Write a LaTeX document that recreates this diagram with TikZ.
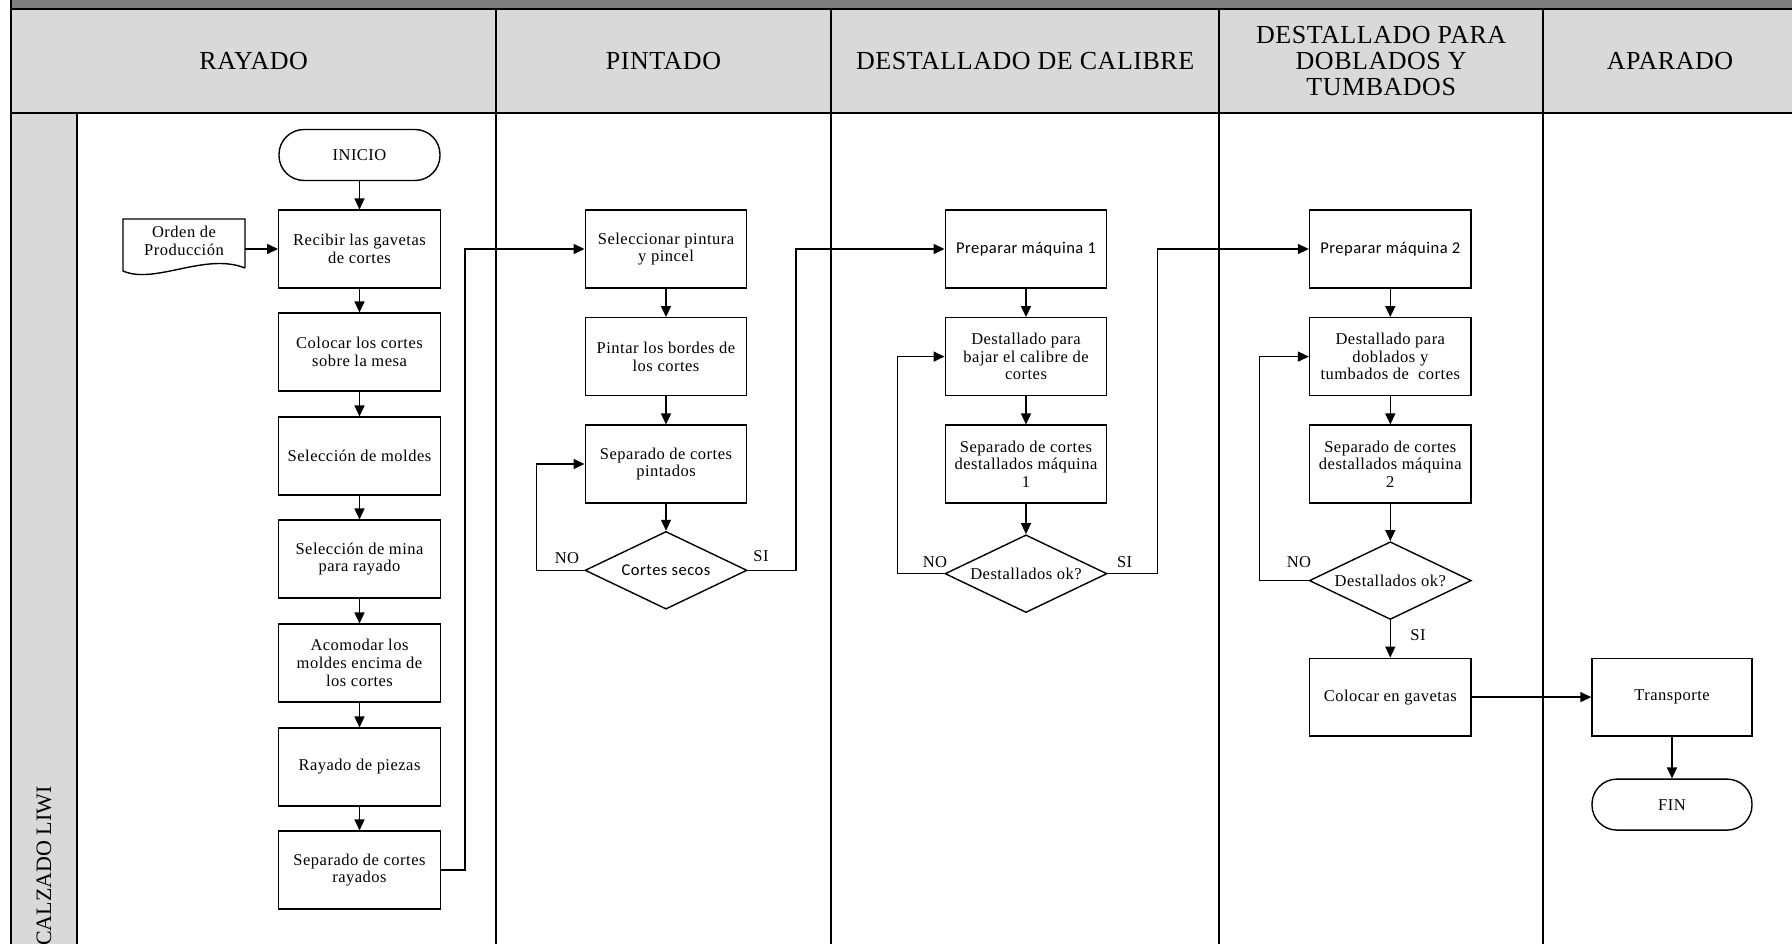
\documentclass[tikz,border=0pt]{standalone}
\usepackage{fontspec}
\setmainfont{Liberation Serif}
\newfontfamily\bxserif[LetterSpace=3]{Liberation Serif}
\newfontfamily\bxsans[LetterSpace=3]{Carlito}
\newfontfamily\hdserif[LetterSpace=2]{Liberation Serif}
\usetikzlibrary{arrows.meta,shapes.geometric}
\newcommand\myboxfont{\bxserif\fontsize{16.5}{17.7}\selectfont}
\newcommand\mysansfont{\bxsans\fontsize{16.5}{17.7}\selectfont}
\newcommand\myheadfont{\hdserif\fontsize{26}{26.3}\selectfont}
\definecolor{band}{HTML}{7F7F7F}
\definecolor{hdr}{HTML}{D9D9D9}
\begin{document}
\begin{tikzpicture}[x=1pt,y=-1pt,
  box/.style={draw, line width=1.4pt, minimum width=161.5pt, minimum height=77.7pt, inner sep=1pt, align=center, font=\myboxfont},
  sbox/.style={box, font=\mysansfont},
  term/.style={draw, line width=1.4pt, rounded corners=25pt, minimum width=161pt, minimum height=51pt, inner sep=1pt, align=center, font=\myboxfont},
  dec/.style={draw, diamond, line width=1.4pt, aspect=2.08, minimum width=162pt, minimum height=77.7pt, inner sep=0pt, align=center, font=\myboxfont},
  head/.style={align=center, font=\myheadfont},
  lbl/.style={font=\myboxfont, inner sep=0pt},
  arr/.style={line width=1.4pt, -{Triangle[length=11pt,width=10pt]}},
  tbl/.style={line width=2pt}]
\useasboundingbox (0,0) rectangle (1792,944);
% table background
\fill[band] (11.4,0) rectangle (1792,9);
\fill[hdr] (11.4,9) rectangle (1792,113);
\fill[hdr] (11.4,113) rectangle (76.6,944);
\draw[tbl] (11.4,0) -- (11.4,944);
\draw[tbl] (11.4,9) -- (1792,9);
\draw[tbl] (11.4,113) -- (1792,113);
\draw[tbl] (76.6,113) -- (76.6,944);
\foreach \xx in {496,831,1219.4,1543} {\draw[tbl] (\xx,9) -- (\xx,944);}
% headers
\node[head] (hray) at (253.7,61) {RAYADO};
\node[head] (hpin) at (663.5,61) {PINTADO};
\node[head] (hcal) at (1025.2,61) {DESTALLADO DE CALIBRE};
\node[head] (hdob) at (1381.2,61) {DESTALLADO PARA\\DOBLADOS Y\\TUMBADOS};
\node[head] (hapa) at (1670,61) {APARADO};
\node[font=\fontsize{22}{24}\selectfont, rotate=90] (lane) at (44,866) {CALZADO LIWI};
% RAYADO
\node[term] (inicio) at (359.5,155) {INICIO};
\node[box] (recibir) at (359.5,249) {Recibir las gavetas\\de cortes};
\node[box] (colocar) at (359.5,352) {Colocar los cortes\\sobre la mesa};
\node[box] (moldes) at (359.5,456) {Selección de moldes};
\node[box] (mina) at (359.5,559) {Selección de mina\\para rayado};
\node[box] (acomodar) at (359.5,663) {Acomodar los\\moldes encima de\\los cortes};
\node[box] (rayado) at (359.5,767) {Rayado de piezas};
\node[box] (seprayados) at (359.5,870) {Separado de cortes\\rayados};
\node[font=\myboxfont, align=center, minimum width=122pt, minimum height=44pt, inner sep=0pt] (orden) at (184,241) {Orden de\\Producción};
\draw[line width=1.4pt] (245,268) -- (245,219) -- (123,219) -- (123,271)
  .. controls (155,285) and (205,252) .. (245,268);
% PINTADO
\node[box] (selpint) at (666,249) {Seleccionar pintura\\y pincel};
\node[box] (pintar) at (666,356.6) {Pintar los bordes de\\los cortes};
\node[box] (seppint) at (666,464) {Separado de cortes\\pintados};
\node[dec, font=\mysansfont] (secos) at (666,570.3) {Cortes secos};
% DESTALLADO DE CALIBRE
\node[sbox] (prep1) at (1026,249) {Preparar máquina 1};
\node[box] (dest1) at (1026,356.6) {Destallado para\\bajar el calibre de\\cortes};
\node[box] (sep1) at (1026,464) {Separado de cortes\\destallados máquina\\1};
\node[dec] (ok1) at (1026,573.7) {Destallados ok?};
% DOBLADOS
\node[sbox] (prep2) at (1390.3,249) {Preparar máquina 2};
\node[box] (dest2) at (1390.3,356.6) {Destallado para\\doblados y\\tumbados de\ \ cortes};
\node[box] (sep2) at (1390.3,464) {Separado de cortes\\destallados máquina\\2};
\node[dec] (ok2) at (1390.3,580.6) {Destallados ok?};
\node[box] (colgav) at (1390.3,697.1) {Colocar en gavetas};
% APARADO
\node[box, minimum width=160pt] (transp) at (1672,697.1) {Transporte};
\node[term, minimum width=160pt] (fin) at (1672,804.6) {FIN};
% labels
\node[lbl] (no1) at (567,558) {NO};
\node[lbl] (si1) at (761,556) {SI};
\node[lbl] (no2) at (935,562) {NO};
\node[lbl] (si2) at (1124.6,562) {SI};
\node[lbl] (no3) at (1299,562) {NO};
\node[lbl] (si3) at (1418,635) {SI};
% connectors
\draw[arr] (inicio) -- (recibir);
\draw[arr] (orden.east |- recibir.west) -- (recibir.west);
\draw[arr] (recibir) -- (colocar);
\draw[arr] (colocar) -- (moldes);
\draw[arr] (moldes) -- (mina);
\draw[arr] (mina) -- (acomodar);
\draw[arr] (acomodar) -- (rayado);
\draw[arr] (rayado) -- (seprayados);
\draw[arr] (seprayados.east) -- ++(24,0) |- (selpint.west);
\draw[arr] (selpint) -- (pintar);
\draw[arr] (pintar) -- (seppint);
\draw[arr] (seppint) -- (secos);
\draw[arr] (secos.west) -- ++(-48,0) |- (seppint.west);
\draw[arr] (secos.east) -- ++(48.4,0) |- (prep1.west);
\draw[arr] (prep1) -- (dest1);
\draw[arr] (dest1) -- (sep1);
\draw[arr] (sep1) -- (ok1);
\draw[arr] (ok1.west) -- ++(-47,0) |- (dest1.west);
\draw[arr] (ok1.east) -- ++(49.6,0) |- (prep2.west);
\draw[arr] (prep2) -- (dest2);
\draw[arr] (dest2) -- (sep2);
\draw[arr] (sep2) -- (ok2);
\draw[arr] (ok2.west) -- ++(-49,0) |- (dest2.west);
\draw[arr] (ok2) -- (colgav);
\draw[arr] (colgav) -- (transp);
\draw[arr] (transp) -- (fin);
\end{tikzpicture}
\end{document}
